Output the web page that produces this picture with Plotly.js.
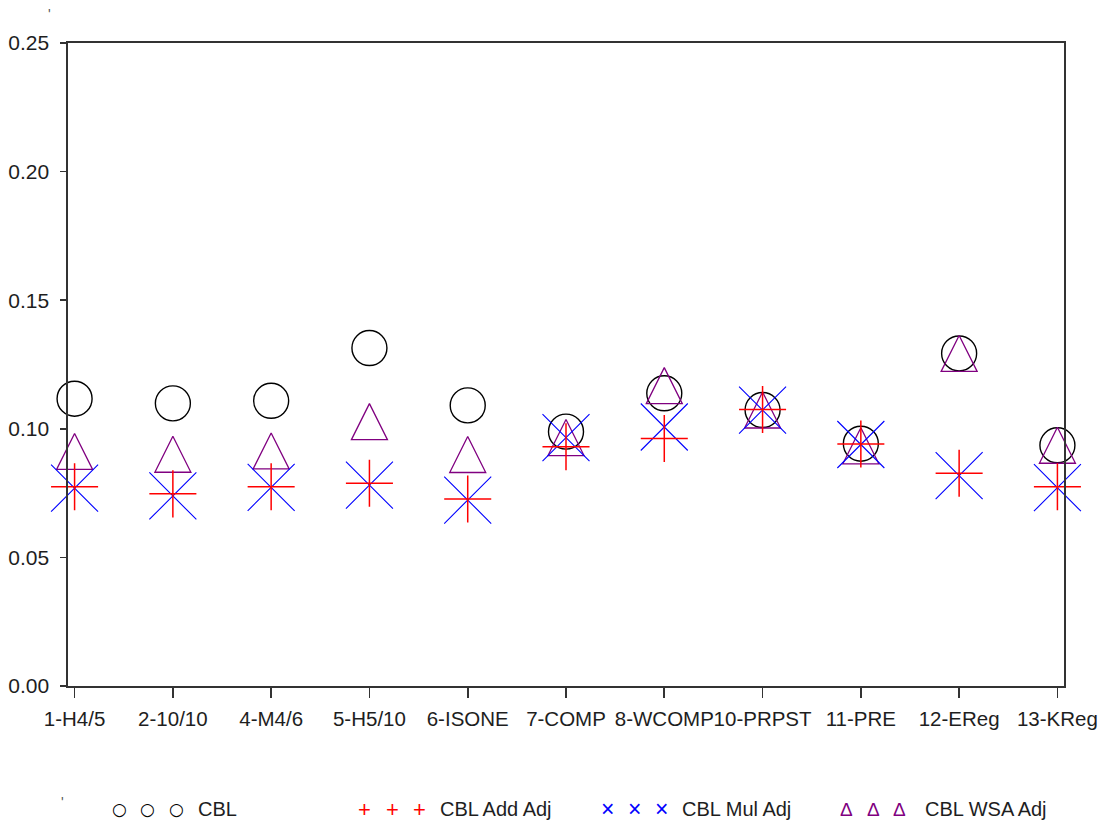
<!DOCTYPE html>
<html>
<head>
<meta charset="utf-8">
<script src="https://cdn.plot.ly/plotly-3.0.1.min.js"></script>
<style>
  html, body { margin: 0; padding: 0; background: #fff; }
  #chart { width: 1101px; height: 822px; }
</style>
</head>
<body>
<div id="chart"></div>
<script>
// ---- data ----
var categories = ['1-H4/5', '2-10/10', '4-M4/6', '5-H5/10', '6-ISONE', '7-COMP', '8-WCOMP', '10-PRPST', '11-PRE', '12-EReg', '13-KReg'];
var cbl    = [0.1117, 0.1099, 0.1109, 0.1314, 0.1091, 0.0989, 0.1138, 0.1073, 0.0942, 0.1293, 0.0936];
var addAdj = [0.0775, 0.0747, 0.0775, 0.0788, 0.0727, 0.0930, 0.0962, 0.1075, 0.0941, 0.0827, 0.0775];
var mulAdj = [0.0769, 0.0739, 0.0772, 0.0781, 0.0723, 0.0966, 0.1007, 0.1073, 0.0939, 0.0818, 0.0771];
var wsaAdj = [0.0912, 0.0901, 0.0914, 0.1028, 0.0900, 0.0966, 0.1168, 0.1073, 0.0934, 0.1293, 0.0936];
var seriesNames = ['CBL', 'CBL Add Adj', 'CBL Mul Adj', 'CBL WSA Adj'];
var yTickVals = [0, 0.05, 0.10, 0.15, 0.20, 0.25];

// ---- styling ----
var FONT = 'Liberation Sans, Arial, sans-serif';
var TXT = '#1e1e1e';
var AX = '#333333';
var colors = ['#000000', '#ff0000', '#0000ff', '#800080'];

var traces = [
  { type: 'scatter', mode: 'markers', name: seriesNames[0], x: categories, y: cbl, cliponaxis: false,
    marker: { symbol: 'circle-open', size: 35, color: colors[0], line: { color: colors[0], width: 1.4 } },
    showlegend: false, hoverinfo: 'x+y' },
  { type: 'scatter', mode: 'markers', name: seriesNames[3], x: categories, y: wsaAdj, cliponaxis: false,
    marker: { symbol: 'arrow-down-open', angle: 180, standoff: 18, size: 36, color: colors[3], line: { color: colors[3], width: 1.3 } },
    showlegend: false, hoverinfo: 'x+y' },
  { type: 'scatter', mode: 'markers', name: seriesNames[2], x: categories, y: mulAdj, cliponaxis: false,
    marker: { symbol: 'x-thin-open', size: 47, color: colors[2], line: { color: colors[2], width: 1.1 } },
    showlegend: false, hoverinfo: 'x+y' },
  { type: 'scatter', mode: 'markers', name: seriesNames[1], x: categories, y: addAdj, cliponaxis: false,
    marker: { symbol: 'cross-thin-open', size: 33.6, color: colors[1], line: { color: colors[1], width: 1.5 } },
    showlegend: false, hoverinfo: 'x+y' }
];

// ---- text legend along the bottom (glyph triplets + labels) ----
var legendGlyphs = ['\u25CB', '+', '\u00D7', '\u0394'];
var glyphFonts = [
  { family: 'DejaVu Sans', size: 17 },
  { family: FONT, size: 22 },
  { family: FONT, size: 23 },
  { family: FONT, size: 19 }
];
var legendGlyphX = [[120, 148, 176.5], [365, 392.5, 420], [608, 635, 662], [847, 873.5, 900]];
var legendLabelX = [196.5, 438, 680, 923];
var legendY = 809;

// plot area in pixels (for converting layout positions to paper fractions)
var L = 68, R = 1064.3, T = 42.7, B = 685.7;
function px2paperX(p) { return (p - L) / (R - L); }
function px2paperY(p) { return (B - p) / (B - T); }

var annotations = [];
for (var s = 0; s < seriesNames.length; s++) {
  for (var g = 0; g < 3; g++) {
    annotations.push({
      xref: 'paper', yref: 'paper', x: px2paperX(legendGlyphX[s][g]), y: px2paperY(legendY),
      xanchor: 'center', yanchor: 'middle', showarrow: false,
      text: legendGlyphs[s],
      font: { family: glyphFonts[s].family, size: glyphFonts[s].size, color: colors[s] }
    });
  }
  annotations.push({
    xref: 'paper', yref: 'paper', x: px2paperX(legendLabelX[s]), y: px2paperY(legendY),
    xanchor: 'left', yanchor: 'middle', showarrow: false,
    text: seriesNames[s],
    font: { family: FONT, size: 20, color: TXT }
  });
}
// two small stray tick marks present in the reference
annotations.push({ xref: 'paper', yref: 'paper', x: px2paperX(49.5), y: px2paperY(14), xanchor: 'center', yanchor: 'middle',
  showarrow: false, text: "'", font: { family: FONT, size: 14, color: '#555' } });
annotations.push({ xref: 'paper', yref: 'paper', x: px2paperX(62.5), y: px2paperY(802), xanchor: 'center', yanchor: 'middle',
  showarrow: false, text: "'", font: { family: FONT, size: 14, color: '#555' } });

var layout = {
  width: 1101, height: 822,
  margin: { l: L, r: 1101 - R, t: T, b: 822 - B, pad: 0 },
  paper_bgcolor: '#ffffff', plot_bgcolor: '#ffffff',
  showlegend: false,
  font: { family: FONT, size: 21, color: TXT },
  xaxis: {
    type: 'category', range: [-0.067, 10.067],
    showgrid: false, zeroline: false,
    showline: true, linecolor: AX, linewidth: 1.6, mirror: true,
    ticks: 'outside', ticklen: 10, tickwidth: 1.6, tickcolor: AX,
    tickangle: 0,
    ticklabelstandoff: 4,
    tickfont: { family: FONT, size: 20.5, color: TXT }
  },
  yaxis: {
    range: [0, 0.25], tickvals: yTickVals, tickformat: '.2f',
    showgrid: false, zeroline: false,
    showline: true, linecolor: AX, linewidth: 1.6, mirror: true,
    ticks: 'outside', ticklen: 6, tickwidth: 1.6, tickcolor: AX,
    ticklabelstandoff: 7,
    tickfont: { family: FONT, size: 21, color: TXT }
  },
  annotations: annotations
};

Plotly.newPlot('chart', traces, layout, { displayModeBar: false, staticPlot: true });
</script>
</body>
</html>
